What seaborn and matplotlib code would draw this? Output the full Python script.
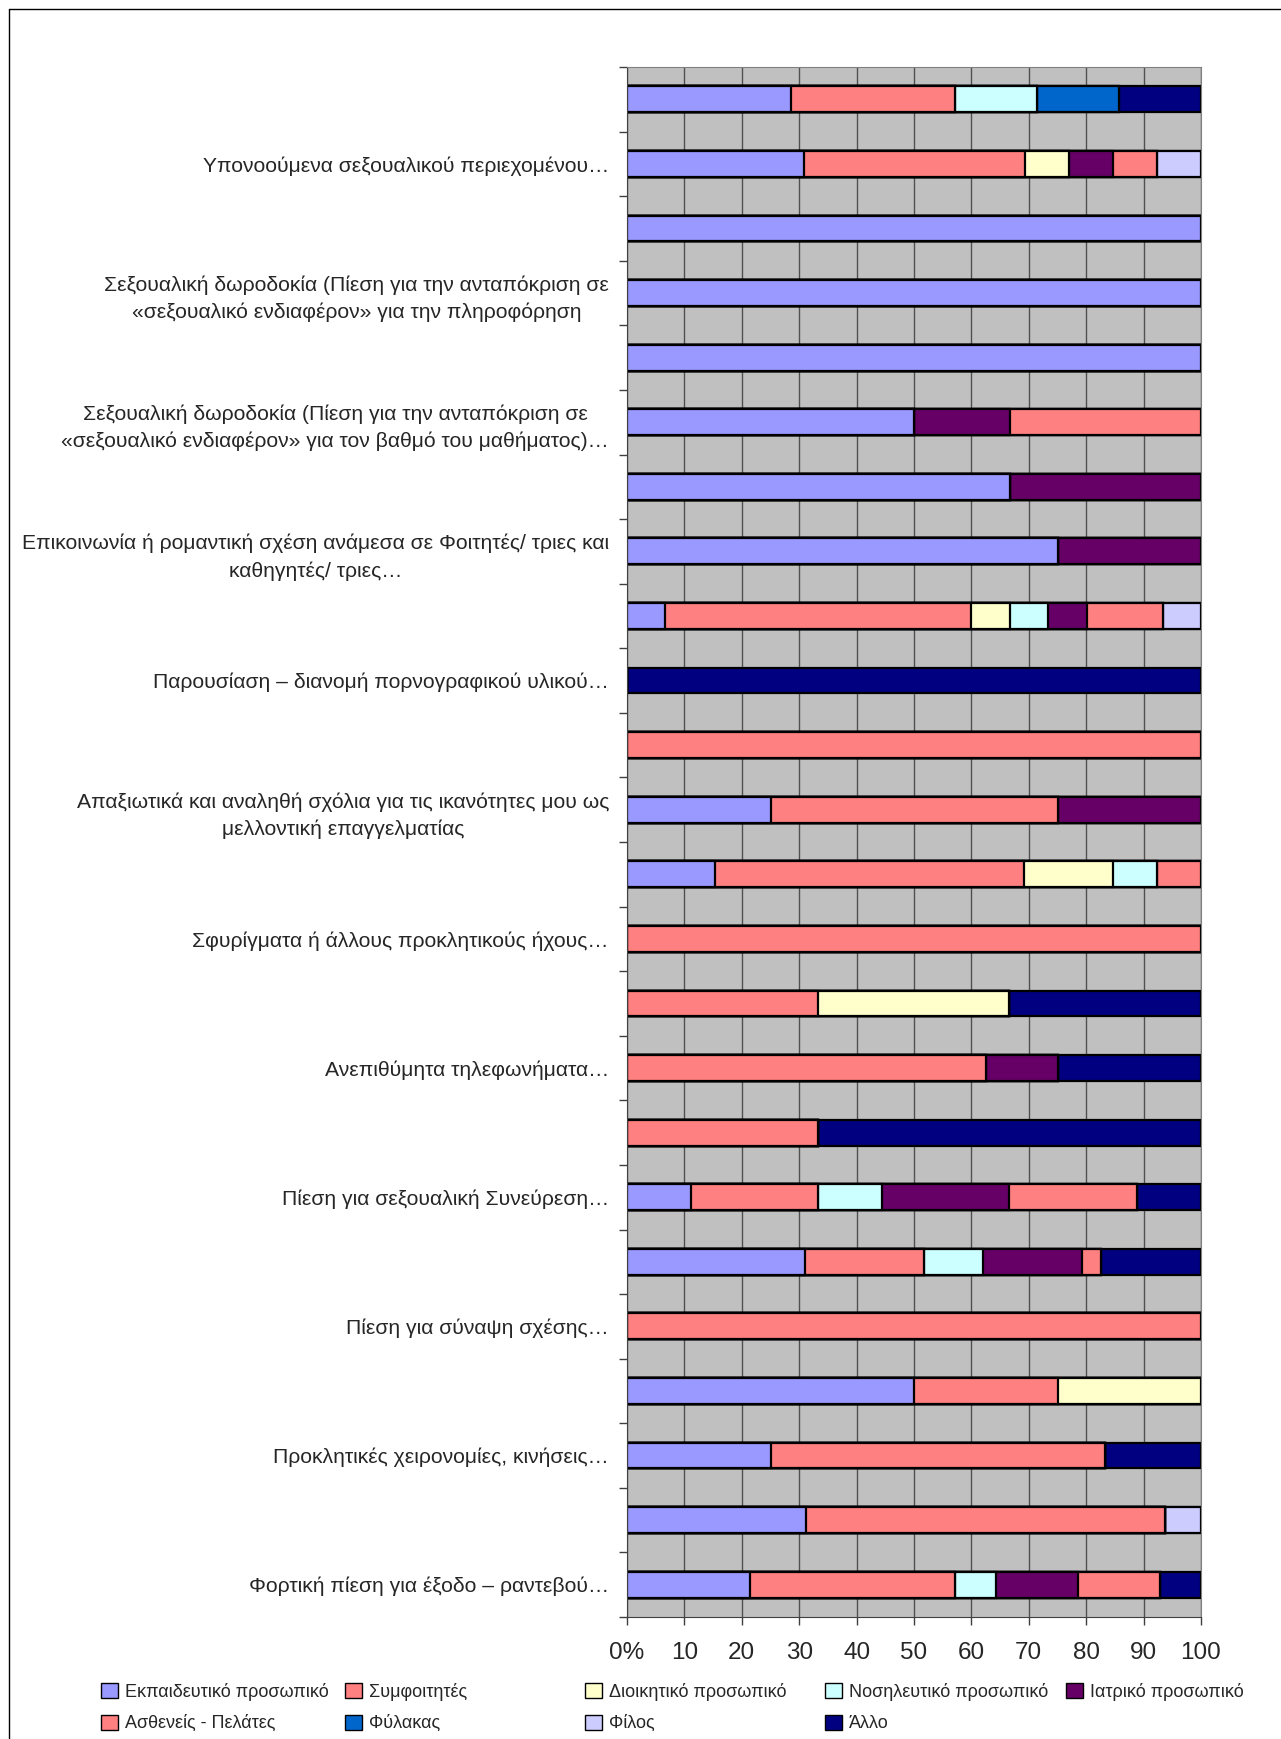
import numpy as np
import pandas as pd
import seaborn as sns
from matplotlib import pyplot as plt
from matplotlib.patches import Patch
from matplotlib.lines import Line2D

sns.set_style("white")
plt.rcParams['font.family'] = ['Liberation Sans', 'DejaVu Sans']

# 24 bars, top to bottom; only every other bar carries a label
labels = [
    "", "Υπονοούμενα σεξουαλικού περιεχομένου…",
    "", "Σεξουαλική δωροδοκία (Πίεση για την ανταπόκριση σε\n«σεξουαλικό ενδιαφέρον» για την πληροφόρηση",
    "", "Σεξουαλική δωροδοκία (Πίεση για την ανταπόκριση σε\n«σεξουαλικό ενδιαφέρον» για τον βαθμό του μαθήματος)…",
    "", "Επικοινωνία ή ρομαντική σχέση ανάμεσα σε Φοιτητές/ τριες και\nκαθηγητές/ τριες…",
    "", "Παρουσίαση – διανομή πορνογραφικού υλικού…",
    "", "Απαξιωτικά και αναληθή σχόλια για τις ικανότητες μου ως\nμελλοντική επαγγελματίας",
    "", "Σφυρίγματα ή άλλους προκλητικούς ήχους…",
    "", "Ανεπιθύμητα τηλεφωνήματα…",
    "", "Πίεση για σεξουαλική Συνεύρεση…",
    "", "Πίεση για σύναψη σχέσης…",
    "", "Προκλητικές χειρονομίες, κινήσεις…",
    "", "Φορτική πίεση για έξοδο – ραντεβού…",
]

series = ["Εκπαιδευτικό προσωπικό", "Συμφοιτητές", "Διοικητικό προσωπικό",
          "Νοσηλευτικό προσωπικό", "Ιατρικό προσωπικό", "Ασθενείς - Πελάτες",
          "Φύλακας", "Φίλος", "Άλλο"]
colors = ["#9999FF", "#FF8080", "#FFFFCC", "#CCFFFF", "#660066",
          "#FF8080", "#0066CC", "#CCCCFF", "#000080"]

edu      = [28.6, 30.8, 100, 100, 100, 50.0, 66.7, 75.0, 6.7, 0, 0, 25.0, 15.4, 0, 0, 0, 0, 11.1, 31.0, 0, 50.0, 25.0, 31.2, 21.4]
fellow   = [28.6, 38.5, 0, 0, 0, 0, 0, 0, 53.3, 0, 100, 50.0, 53.8, 100, 33.3, 62.5, 33.3, 22.2, 20.7, 100, 25.0, 58.3, 62.5, 35.7]
admin    = [0, 7.7, 0, 0, 0, 0, 0, 0, 6.7, 0, 0, 0, 15.4, 0, 33.3, 0, 0, 0, 0, 0, 25.0, 0, 0, 0]
nursing  = [14.3, 0, 0, 0, 0, 0, 0, 0, 6.7, 0, 0, 0, 7.7, 0, 0, 0, 0, 11.1, 10.3, 0, 0, 0, 0, 7.1]
medical  = [0, 7.7, 0, 0, 0, 16.7, 33.3, 25.0, 6.7, 0, 0, 25.0, 0, 0, 0, 12.5, 0, 22.2, 17.2, 0, 0, 0, 0, 14.3]
patients = [0, 7.7, 0, 0, 0, 33.3, 0, 0, 13.3, 0, 0, 0, 7.7, 0, 0, 0, 0, 22.2, 3.4, 0, 0, 0, 0, 14.3]
guard    = [14.3, 0, 0, 0, 0, 0, 0, 0, 0, 0, 0, 0, 0, 0, 0, 0, 0, 0, 0, 0, 0, 0, 0, 0]
friend   = [0, 7.6, 0, 0, 0, 0, 0, 0, 6.6, 0, 0, 0, 0, 0, 0, 0, 0, 0, 0, 0, 0, 0, 6.3, 0]
other    = [14.2, 0, 0, 0, 0, 0, 0, 0, 0, 100, 0, 0, 0, 0, 33.4, 25.0, 66.7, 11.2, 17.4, 0, 0, 16.7, 0, 7.2]

cats = [f"c{i}" for i in range(len(labels))]
df = pd.DataFrame(dict(zip(series, [edu, fellow, admin, nursing, medical,
                                    patients, guard, friend, other])), index=cats)
cum = df.cumsum(axis=1)

fig = plt.figure(figsize=(12.81, 17.39), dpi=100)
ax = fig.add_axes([627/1281, 1 - 1617/1739, (1201 - 627)/1281, (1617 - 67)/1739])
ax.set_facecolor("#C0C0C0")

# stacked bars: draw the running totals from the last series to the first
for name, col in reversed(list(zip(series, colors))):
    sns.barplot(x=cum[name].values, y=cats, order=cats, orient="h", color=col,
                saturation=1, width=0.4, edgecolor="black", linewidth=1.6,
                errorbar=None, ax=ax)

ax.set_xlim(0, 100)
ax.set_ylim(len(cats) - 0.5, -0.5)
ax.set_xlabel("")
ax.set_ylabel("")

ax.set_xticks(range(0, 101, 10))
ax.set_xticklabels(["0%"] + [str(v) for v in range(10, 101, 10)], fontsize=17.5)
ax.tick_params(axis="x", length=6, width=1, color="#404040", pad=12, bottom=True)

ax.set_yticks(range(len(cats)))
ax.set_yticklabels(labels, fontsize=15.2, multialignment="center", linespacing=1.5)
ax.set_yticks(np.arange(-0.5, len(cats), 1), minor=True)
ax.tick_params(axis="y", which="major", length=0, pad=13)
ax.tick_params(axis="y", which="minor", length=6, width=1, color="#404040", left=True)

ax.xaxis.grid(True, color="#505050", linewidth=1)
ax.set_axisbelow(True)
for side in ["top", "right"]:
    ax.spines[side].set_color("#808080")
for side in ["left", "bottom"]:
    ax.spines[side].set_color("#404040")

# legend laid out in Excel-like fixed columns
handles = [Patch(facecolor=c, edgecolor="black", linewidth=1) for c in colors]
col_x = [109, 353, 593, 833, 1074]
grid = [[0, 5], [1, 6], [2, 7], [3, 8], [4]]
for x, idx in zip(col_x, grid):
    fig.legend([handles[i] for i in idx], [series[i] for i in idx],
               loc="upper left", bbox_to_anchor=(x/1281 - 0.006, 1 - 1683/1739),
               frameon=False, fontsize=13, handlelength=0.9, handleheight=0.9,
               handletextpad=0.4, labelspacing=0.75, borderaxespad=0, borderpad=0)

fig.add_artist(Line2D([9/1281, 9/1281], [0, 1 - 9/1739], transform=fig.transFigure,
                      color="black", linewidth=1))
fig.add_artist(Line2D([9/1281, 1], [1 - 9/1739, 1 - 9/1739], transform=fig.transFigure,
                      color="black", linewidth=1))

fig.savefig("out.png", dpi=100, facecolor="white")
